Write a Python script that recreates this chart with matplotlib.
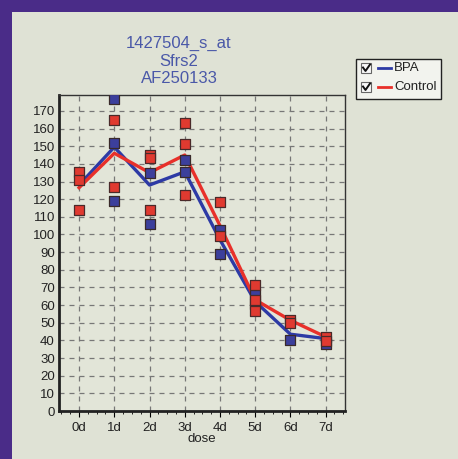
import matplotlib
matplotlib.use("Agg")
import matplotlib.pyplot as plt
from matplotlib.patches import Rectangle
from matplotlib.lines import Line2D
import numpy as np

plt.rcParams['font.family'] = ['Liberation Sans', 'DejaVu Sans']

categories = ["0d", "1d", "2d", "3d", "4d", "5d", "6d", "7d"]
bpa_line = [128, 149.5, 128, 135.5, 97, 62, 43.5, 41]
ctrl_line = [126.5, 146, 135, 145, 105, 63, 51.4, 42]

# replicate points (category index, value)
bpa_pts_x = [1, 1, 1, 2, 2, 3, 3, 4, 4, 5, 5, 6, 7]
bpa_pts_y = [177, 152, 119, 135, 106, 142, 135.5, 102.8, 89, 66, 60.8, 40.4, 37.8]
ctrl_pts_x = [0, 0, 0, 1, 1, 2, 2, 2, 3, 3, 3, 4, 4, 5, 5, 5, 6, 6, 7, 7]
ctrl_pts_y = [135.4, 131, 113.7, 165, 127, 145, 143.5, 114, 163, 151.5, 122.6, 118.4, 99,
              71.2, 63, 56.7, 51.4, 49.7, 42, 39.7]

title_lines = ["1427504_s_at", "Sfrs2", "AF250133"]
legend_labels = ["BPA", "Control"]
yticks = list(range(0, 171, 10))

W, H = 458, 459
fig = plt.figure(figsize=(W / 100, H / 100), dpi=100)
fig.patch.set_facecolor("#4a2c88")
panel = Rectangle((12 / W, 0), 1, 1 - 12 / H, transform=fig.transFigure,
                  facecolor="#dfe2d5", edgecolor="none", zorder=-10)
fig.patches.append(panel)

ax = fig.add_axes([59 / W, 1 - 411 / H, (345 - 59) / W, (411 - 95) / H])
ax.set_facecolor("#e2e5d8")

blue = "#2d3aa5"
red = "#e8302a"
ax.plot(range(len(categories)), bpa_line, color=blue, lw=2.4, zorder=3)
ax.plot(range(len(categories)), ctrl_line, color=red, lw=2.4, zorder=3)
ax.scatter(bpa_pts_x, bpa_pts_y, marker="s", s=48, color="#3c3f9c",
           edgecolor="#3a2a2a", linewidth=0.9, zorder=4)
ax.scatter(ctrl_pts_x, ctrl_pts_y, marker="s", s=48, color="#e03a30",
           edgecolor="#4a2a2a", linewidth=0.9, zorder=4)

ax.set_xlim(-0.57, 7.55)
ax.set_ylim(0, 179)
ax.set_xticks(range(len(categories)))
ax.set_xticklabels(categories, fontsize=9.5, color="#222")
ax.set_xticks(np.arange(-0.5, 7.51, 0.25), minor=True)
ax.set_yticks(yticks)
ax.set_yticklabels([str(v) for v in yticks], fontsize=9.5, color="#222")
ax.tick_params(axis="y", length=0, pad=3)
ax.tick_params(axis="x", which="major", length=4, direction="out", pad=4)
ax.tick_params(axis="x", which="minor", length=2, direction="out")
ax.grid(True, which="major", color="#777", linestyle=(0, (4, 4)), linewidth=0.9)
for s in ["left", "bottom"]:
    ax.spines[s].set_linewidth(2)
    ax.spines[s].set_color("#222")
for s in ["top", "right"]:
    ax.spines[s].set_linewidth(1)
    ax.spines[s].set_color("#333")
ax.set_xlabel("dose", fontsize=9.5, color="#222", labelpad=-1)

fig.text(179 / W, 1 - 61 / H, "\n".join(title_lines), ha="center", va="center",
         fontsize=12, color="#4a58a8", linespacing=1.22)

# legend box
fig.patches.append(Rectangle((356 / W, 1 - 99 / H), 85 / W, 40 / H, transform=fig.transFigure,
                             facecolor="#f2f3ee", edgecolor="#222", linewidth=1, zorder=5))
for i, (lab, col) in enumerate(zip(legend_labels, [blue, red])):
    yc = 68 + i * 19
    fig.patches.append(Rectangle((361 / W, 1 - (yc + 5) / H), 10 / W, 10 / H,
                                 transform=fig.transFigure, facecolor="#f8f8f8",
                                 edgecolor="#666", linewidth=0.8, zorder=6))
    fig.lines.append(Line2D([363 / W, 365.5 / W, 370 / W],
                            [1 - (yc - 0.5) / H, 1 - (yc + 3) / H, 1 - (yc - 3.5) / H],
                            transform=fig.transFigure, color="#111", lw=1.4, zorder=7))
    fig.lines.append(Line2D([378 / W, 391 / W], [1 - yc / H, 1 - yc / H],
                            transform=fig.transFigure, color=col, lw=2, zorder=7))
    fig.text(394 / W, 1 - yc / H, lab, ha="left", va="center", fontsize=9.5,
             color="#222", zorder=7)

fig.savefig("out.png", dpi=100, facecolor=fig.get_facecolor())
